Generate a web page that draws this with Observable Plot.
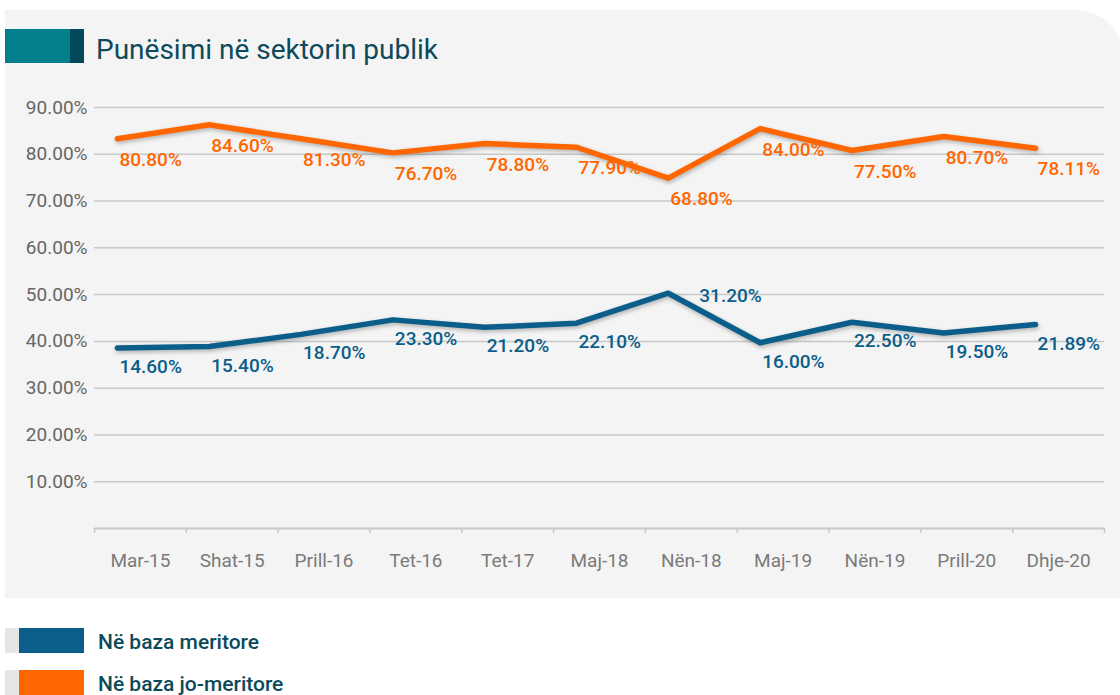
<!DOCTYPE html>
<html>
<head>
<meta charset="utf-8">
<script src="https://cdn.jsdelivr.net/npm/d3@7"></script>
<script src="https://cdn.jsdelivr.net/npm/@observablehq/plot@0.6"></script>
<style>
html,body{margin:0;padding:0;background:#fff;}
#wrap{position:relative;width:1120px;height:695px;overflow:hidden;font-family:Roboto,"Noto Sans",sans-serif;}
#panel{position:absolute;left:5px;top:10px;width:1120px;height:588px;background:#f4f4f4;border-top-right-radius:50px;}
.bar1{position:absolute;left:5px;top:29px;width:65px;height:34px;background:#037f8b;}
.bar2{position:absolute;left:70px;top:29px;width:14px;height:34px;background:#04495b;}
#title{position:absolute;left:96px;top:36px;font-size:28px;line-height:28px;color:#0d4a5a;white-space:nowrap;}
#chart{position:absolute;left:0;top:0;}
.sw-g{position:absolute;left:5px;width:14px;height:25px;background:#e6e6e6;}
.sw-c{position:absolute;left:19px;width:65px;height:25px;}
.leg-t{position:absolute;left:98px;font-size:21px;line-height:21px;font-weight:500;color:#0b4a5a;white-space:nowrap;}
</style>
</head>
<body>
<div id="wrap">
  <div id="panel"></div>
  <div class="bar1"></div><div class="bar2"></div>
  <div id="title"></div>
  <div id="chart"></div>
  <div id="legend"></div>
</div>
<script>
const titleText = "Punësimi në sektorin publik";
const categories = ["Mar-15","Shat-15","Prill-16","Tet-16","Tet-17","Maj-18","Nën-18","Maj-19","Nën-19","Prill-20","Dhje-20"];
// plotted positions
const meritore = [38.6, 38.9, 41.5, 44.6, 43.0, 43.9, 50.3, 39.7, 44.1, 41.8, 43.6];
const joMeritore = [83.3, 86.3, 83.3, 80.3, 82.3, 81.5, 74.9, 85.5, 80.8, 83.8, 81.3];
// data labels as printed on the chart
const meritoreLabels = ["14.60%","15.40%","18.70%","23.30%","21.20%","22.10%","31.20%","16.00%","22.50%","19.50%","21.89%"];
const joMeritoreLabels = ["80.80%","84.60%","81.30%","76.70%","78.80%","77.90%","68.80%","84.00%","77.50%","80.70%","78.11%"];
const yTicks = [10, 20, 30, 40, 50, 60, 70, 80, 90];
const seriesNames = ["Në baza meritore", "Në baza jo-meritore"];
const colors = ["#0a5e89", "#ff6600"];

document.getElementById("title").textContent = titleText;

const blueRows = categories.map((c, i) => ({i, cat: c, value: meritore[i], label: meritoreLabels[i]}));
const orangeRows = categories.map((c, i) => ({i, cat: c, value: joMeritore[i], label: joMeritoreLabels[i]}));
const boundaries = d3.range(categories.length + 1).map(k => k - 0.5);
const peak = d3.maxIndex(meritore);
const shadow = "drop-shadow(1px 2px 2px rgba(0,0,0,0.28))";

const chart = Plot.plot({
  width: 1120,
  height: 600,
  marginLeft: 94,
  marginRight: 16,
  marginTop: 107,
  marginBottom: 72,
  x: {type: "linear", domain: [-0.5, categories.length - 0.5]},
  y: {domain: [0, 90]},
  style: {background: "transparent", fontFamily: "Roboto, 'Noto Sans', sans-serif", overflow: "visible"},
  marks: [
    Plot.gridY(yTicks, {stroke: "#c8c8c8", strokeOpacity: 1, strokeWidth: 1.5}),
    Plot.axisY(yTicks, {tickSize: 0, tickPadding: 7, tickFormat: d => d.toFixed(2) + "%", fontSize: 19, fill: "#666", label: null}),
    Plot.ruleY([0], {stroke: "#c8c8c8", strokeWidth: 2}),
    Plot.axisX(boundaries, {tickSize: 5, stroke: "#c8c8c8", strokeWidth: 1.5, tickFormat: () => "", label: null}),
    Plot.axisX(d3.range(categories.length), {tickSize: 0, tickPadding: 25, tickFormat: i => categories[i], fontSize: 19, fill: "#7a7a7a", label: null}),
    Plot.line(orangeRows, {x: "i", y: "value", stroke: colors[1], strokeWidth: 5.5, dx: -23, imageFilter: shadow}),
    Plot.line(blueRows, {x: "i", y: "value", stroke: colors[0], strokeWidth: 5.5, dx: -23, imageFilter: shadow}),
    Plot.text(orangeRows, {x: "i", y: "value", text: "label", dx: -21, dy: 21, textAnchor: "start", fill: colors[1], fontSize: 19, fontWeight: 500}),
    Plot.text(blueRows.filter(d => d.i !== peak), {x: "i", y: "value", text: "label", dx: -21, dy: 19, textAnchor: "start", fill: colors[0], fontSize: 19, fontWeight: 500}),
    Plot.text(blueRows.filter(d => d.i === peak), {x: "i", y: "value", text: "label", dx: 8, dy: 3, textAnchor: "start", fill: colors[0], fontSize: 19, fontWeight: 500})
  ]
});
document.getElementById("chart").appendChild(chart);

const legend = document.getElementById("legend");
const legTops = [628, 670];
seriesNames.forEach((name, k) => {
  const g = document.createElement("div"); g.className = "sw-g"; g.style.top = legTops[k] + "px";
  const c = document.createElement("div"); c.className = "sw-c"; c.style.top = legTops[k] + "px"; c.style.background = colors[k];
  const t = document.createElement("div"); t.className = "leg-t"; t.style.top = (legTops[k] + 4) + "px"; t.textContent = name;
  legend.append(g, c, t);
});
</script>
</body>
</html>
